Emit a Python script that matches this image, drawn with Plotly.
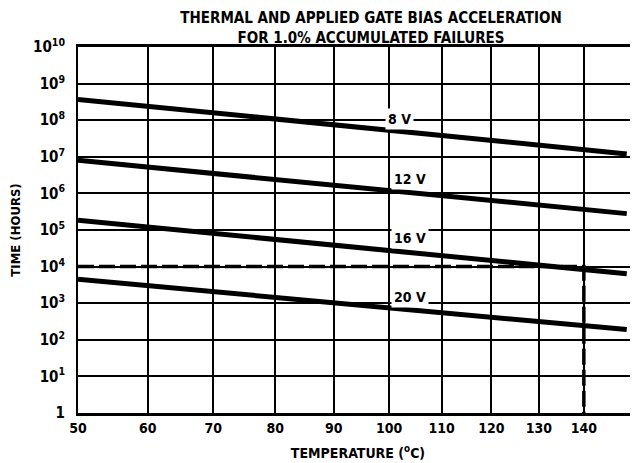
import math
import plotly.graph_objects as go

# temperatures in degC where the bias lines are drawn
temps = [50, 150]
voltages = ['8 V', '12 V', '16 V', '20 V']
hours_8v = [3.7e8, 1.2e7]
hours_12v = [8.0e6, 2.8e5]
hours_16v = [1.85e5, 6.4e3]
hours_20v = [4.5e3, 1.9e2]

# dashed construction line: 10^4 hours at 140 degC
dash_temps = [50, 140, 140]
dash_hours = [1e4, 1e4, 1]

tick_temps = [50, 60, 70, 80, 90, 100, 110, 120, 130, 140]
ytick_vals = [10 ** k for k in range(11)]
ytick_text = ['1'] + ['10<sup>%d</sup>' % k for k in range(1, 11)]

# label positions (temperature, hours)
label_temps = [102, 104, 104, 104]
label_hours = [1.1e8, 2.5e6, 5.9e4, 1.5e3]

FONT = 'Liberation Sans Narrow, DejaVu Sans Condensed, Arial Narrow, sans-serif'

# the page body keeps its default 8px margin, so the figure is 8px smaller
W, H = 630, 455


def inv(t):
    # Arrhenius scale: 1000 / T(K)
    return 1000.0 / (t + 273.15)


fig = go.Figure()

for name, hrs in zip(voltages, [hours_8v, hours_12v, hours_16v, hours_20v]):
    fig.add_trace(go.Scatter(
        x=[inv(t) for t in temps], y=hrs,
        mode='lines', name=name,
        line=dict(color='black', width=5),
        showlegend=False))

fig.add_trace(go.Scatter(
    x=[inv(t) for t in dash_temps], y=dash_hours,
    mode='lines', line=dict(color='black', width=3.5, dash='16px,5px'),
    showlegend=False))

for name, t, h in zip(voltages, label_temps, label_hours):
    # annotations on a log axis take log10 positions
    fig.add_annotation(x=inv(t), y=math.log10(h), yref='y', xref='x',
                       text='<b>%s</b>' % name,
                       showarrow=False, bgcolor='white',
                       font=dict(family=FONT, size=14, color='black'),
                       borderpad=2)

fig.update_layout(
    width=W, height=H,
    margin=dict(l=70, r=0, t=39, b=50),
    paper_bgcolor='white', plot_bgcolor='white',
    font=dict(family=FONT, color='black', size=14),
    title=dict(text='<b>THERMAL AND APPLIED GATE BIAS ACCELERATION<br>FOR 1.0% ACCUMULATED FAILURES</b>',
               x=363 / W, xanchor='center', xref='container',
               y=1 - 15 / H, yanchor='middle', yref='container',
               font=dict(family=FONT, size=15, color='black')),
    xaxis=dict(
        range=[inv(50), inv(152.7)],
        tickvals=[inv(t) for t in tick_temps],
        ticktext=['<b>%d</b>' % t for t in tick_temps],
        showgrid=True, gridcolor='black', gridwidth=1.5,
        showline=True, linecolor='black', linewidth=2.5, mirror=True,
        ticks='', zeroline=False, automargin=False,
        tickfont=dict(size=14), ticklabelstandoff=0,
        title=dict(text='<b>TEMPERATURE (<sup>o</sup>C)</b>', standoff=14,
                   font=dict(size=14))),
    yaxis=dict(
        type='log', range=[0, 10],
        tickvals=ytick_vals, ticktext=['<b>%s</b>' % s for s in ytick_text],
        showgrid=True, gridcolor='black', gridwidth=2.2,
        showline=True, linecolor='black', linewidth=2,
        ticks='', zeroline=False, ticklabelstandoff=8, automargin=False,
        tickfont=dict(size=15),
        title=dict(text='<b>TIME (HOURS)</b>', standoff=10, font=dict(size=13))),
)

fig.write_html('out.html')
